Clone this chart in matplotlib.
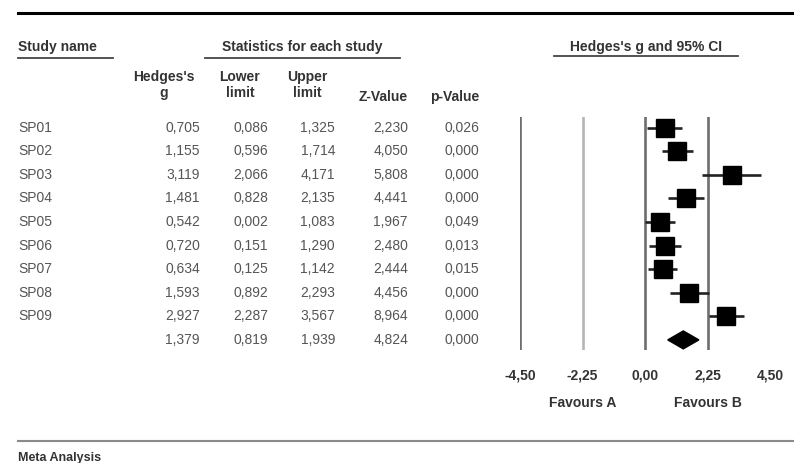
import matplotlib.pyplot as plt
from matplotlib.patches import Polygon

studies = ["SP01", "SP02", "SP03", "SP04", "SP05", "SP06", "SP07", "SP08", "SP09"]
hedges_g = [0.705, 1.155, 3.119, 1.481, 0.542, 0.720, 0.634, 1.593, 2.927]
lower = [0.086, 0.596, 2.066, 0.828, 0.002, 0.151, 0.125, 0.892, 2.287]
upper = [1.325, 1.714, 4.171, 2.135, 1.083, 1.290, 1.142, 2.293, 3.567]
z_value = [2.230, 4.050, 5.808, 4.441, 1.967, 2.480, 2.444, 4.456, 8.964]
p_value = [0.026, 0.000, 0.000, 0.000, 0.049, 0.013, 0.015, 0.000, 0.000]
summary = {"g": 1.379, "lower": 0.819, "upper": 1.939, "z": 4.824, "p": 0.000}
ticks = [-4.50, -2.25, 0.00, 2.25, 4.50]

W, H = 794, 463
plt.rcParams['font.family'] = ['Liberation Sans', 'DejaVu Sans']

fig = plt.figure(figsize=(W / 100, H / 100), dpi=100)
bg = fig.add_axes([0, 0, 1, 1])
bg.set_xlim(0, W)
bg.set_ylim(H, 0)
bg.axis("off")

hdr = dict(fontsize=10, fontweight="bold", color="#333333", family=["Liberation Sans Narrow", "Liberation Sans"])
dat = dict(fontsize=10, color="#555555", va="center")


def fmt(v):
    return f"{v:.3f}".replace(".", ",")


# top and bottom rules
bg.plot([18, W], [12.5, 12.5], color="black", lw=2.2)
bg.plot([18, W], [441, 441], color="#8a8a8a", lw=1.5)
bg.text(18, 458, "Meta Analysis", ha="left", va="center", **{**hdr, "fontsize": 9})

# group headers
bg.text(18, 47, "Study name", ha="left", va="center", **hdr)
bg.plot([18, 113], [57.5, 57.5], color="#444444", lw=1.3)
bg.text(302, 47, "Statistics for each study", ha="center", va="center", **hdr)
bg.plot([205, 400], [57.5, 57.5], color="#444444", lw=1.3)
bg.text(646, 47, "Hedges's g and 95% CI", ha="center", va="center", **hdr)
bg.plot([554, 738], [56, 56], color="#444444", lw=1.3)

# column headers
cols_right = [200, 268, 335, 408, 479]
bg.text(164, 85, "Hedges's\ng", ha="center", va="center", linespacing=1.15, **hdr)
bg.text(240, 85, "Lower\nlimit", ha="center", va="center", linespacing=1.15, **hdr)
bg.text(307, 85, "Upper\nlimit", ha="center", va="center", linespacing=1.15, **hdr)
bg.text(408, 97, "Z-Value", ha="right", va="center", **hdr)
bg.text(479, 97, "p-Value", ha="right", va="center", **hdr)

row0, step = 127.5, 23.6
rows = list(zip(studies, hedges_g, lower, upper, z_value, p_value))
rows.append(("", summary["g"], summary["lower"], summary["upper"], summary["z"], summary["p"]))
for i, r in enumerate(rows):
    y = row0 + i * step
    bg.text(18, y, r[0], ha="left", **dat)
    for x, v in zip(cols_right, r[1:]):
        bg.text(x, y, fmt(v), ha="right", **dat)

# forest plot axes: x -4.5..4.5 -> px 520..770, rows share table spacing
top_px, bot_px = 117, 350
ax = fig.add_axes([520 / W, 1 - bot_px / H, 250 / W, (bot_px - top_px) / H])
ax.set_xlim(-4.5, 4.5)
ax.set_ylim((bot_px - row0) / step, -(row0 - top_px) / step)
for s in ax.spines.values():
    s.set_visible(False)
ax.set_yticks([])
ax.set_xticks(ticks)
ax.set_xticklabels([f"{t:.2f}".replace(".", ",") for t in ticks], fontsize=10, color="#333333",
                   fontweight="bold", family=["Liberation Sans Narrow", "Liberation Sans"])
ax.tick_params(axis="x", length=0, pad=13)

for t in ticks[:-1]:
    ax.axvline(t, color="#b5b5b5" if t == -2.25 else "#6e6e6e", lw=1.9)

for i in range(len(studies)):
    ax.plot([lower[i], upper[i]], [i, i], color="#222222", lw=1.9, solid_capstyle="butt")
    ax.plot(hedges_g[i], i, marker="s", ms=13.5, color="black", mec="black")

n = len(studies)
diamond = Polygon([(summary["lower"], n), (summary["g"], n - 0.38),
                   (summary["upper"], n), (summary["g"], n + 0.38)],
                  closed=True, color="black")
ax.add_patch(diamond)

ax.text(-2.25, (403 - row0) / step, "Favours A", ha="center", va="center", clip_on=False, **hdr)
ax.text(2.25, (403 - row0) / step, "Favours B", ha="center", va="center", clip_on=False, **hdr)

fig.savefig("out.png", dpi=100)
